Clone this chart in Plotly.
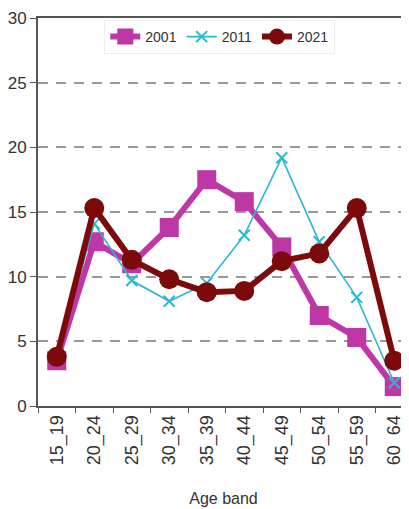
import plotly.graph_objects as go

age_bands = ["15_19", "20_24", "25_29", "30_34", "35_39", "40_44", "45_49", "50_54", "55_59", "60_64"]
y2001 = [3.5, 12.7, 11.0, 13.8, 17.5, 15.8, 12.3, 7.0, 5.3, 1.5]
y2011 = [3.8, 14.1, 9.7, 8.1, 9.5, 13.2, 19.2, 12.7, 8.4, 1.8]
y2021 = [3.8, 15.3, 11.3, 9.8, 8.8, 8.9, 11.2, 11.8, 15.3, 3.5]
y_ticks = [0, 5, 10, 15, 20, 25, 30]

fig = go.Figure()
fig.add_trace(go.Scatter(
    x=age_bands, y=y2001, name="2001", mode="lines+markers",
    line=dict(color="#BE37A6", width=6),
    marker=dict(symbol="square", size=19, color="#BE37A6"),
))
fig.add_trace(go.Scatter(
    x=age_bands, y=y2011, name="2011", mode="lines+markers",
    line=dict(color="#2BB7D6", width=1.6),
    marker=dict(symbol="x-thin", size=11, color="#2BB7D6",
                line=dict(color="#2BB7D6", width=2)),
))
fig.add_trace(go.Scatter(
    x=age_bands, y=y2021, name="2021", mode="lines+markers",
    line=dict(color="#7D0A0A", width=6),
    marker=dict(symbol="circle", size=20, color="#7D0A0A"),
))

fig.update_layout(
    width=409, height=509,
    margin=dict(l=30, r=8, t=10, b=111),
    paper_bgcolor="white", plot_bgcolor="white",
    font=dict(family="Liberation Sans, Arial, sans-serif", color="#333333"),
    showlegend=True,
    legend=dict(
        orientation="h", x=0.49, xanchor="center", y=0.951, yanchor="middle",
        font=dict(family="Liberation Sans, Arial", size=14, color="#333333"),
        bgcolor="rgba(255,255,255,0)", bordercolor="#eeeeee", borderwidth=1,
        itemwidth=30, tracegroupgap=0,
    ),
    xaxis=dict(
        type="category", range=[-0.5, 9.393], automargin=False,
        tickson="boundaries", ticks="outside", ticklen=5, tickcolor="#555555",
        showline=True, linecolor="#555555", linewidth=2, mirror=True,
        showgrid=False, tickangle=-90,
        tickfont=dict(family="Liberation Sans, Arial", size=18, color="#333333"),
        title=dict(text="Age band", font=dict(family="Liberation Sans, Arial", size=16, color="#333333"), standoff=29),
    ),
    yaxis=dict(
        range=[0, 30], tickvals=y_ticks, ticks="outside", ticklen=6, tickcolor="#555555",
        showline=True, linecolor="#555555", linewidth=2, automargin=False,
        showgrid=True, gridcolor="#999999", gridwidth=1.5, griddash="10px,8px",
        zeroline=False,
        tickfont=dict(family="Liberation Sans, Arial", size=17, color="#333333"),
    ),
)

fig.write_html("out.html")
